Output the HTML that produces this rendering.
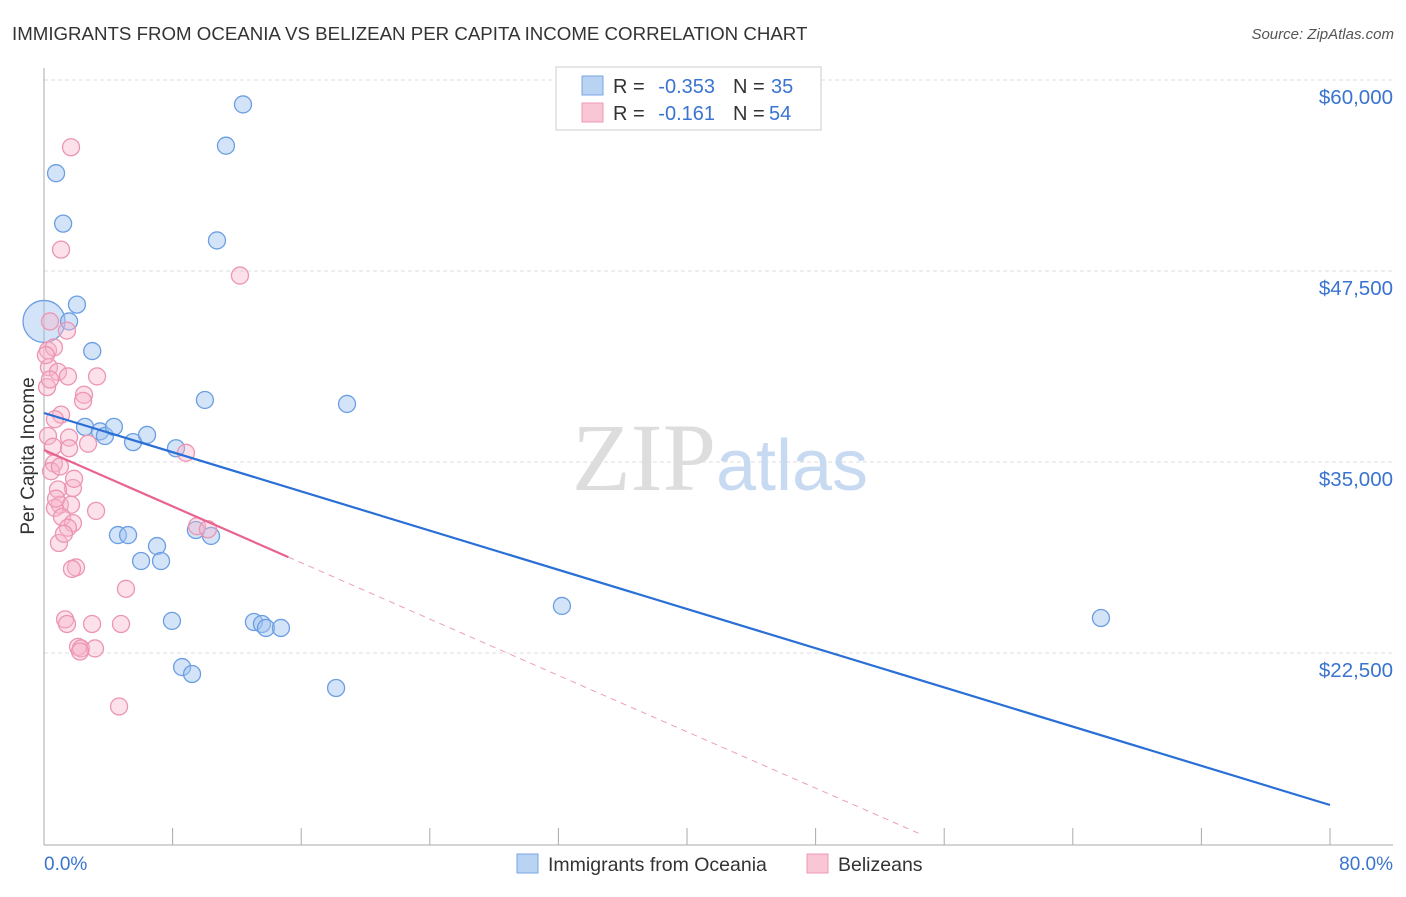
<!DOCTYPE html>
<html><head><meta charset="utf-8"><style>
body{margin:0;background:#fff;font-family:"Liberation Sans",sans-serif;}
</style></head><body>
<svg width="1406" height="892" xmlns="http://www.w3.org/2000/svg">
<text x="12" y="40" font-size="18.7" fill="#333">IMMIGRANTS FROM OCEANIA VS BELIZEAN PER CAPITA INCOME CORRELATION CHART</text>
<text x="1394" y="39" font-size="15" fill="#555" text-anchor="end" font-style="italic">Source: ZipAtlas.com</text>
<g id="grid"></g>
<text x="720" y="490" font-size="96" fill="#ddd" text-anchor="middle" font-family="Liberation Serif">ZIP<tspan fill="#c8daf2" font-family="Liberation Sans" font-size="72">atlas</tspan></text>
<line x1="44" y1="68" x2="44" y2="845" stroke="#aaa"/>
<line x1="44" y1="845" x2="1393" y2="845" stroke="#aaa"/>
<text x="34" y="456" font-size="19" fill="#333" text-anchor="middle" transform="rotate(-90 34 456)">Per Capita Income</text>
<text x="44" y="870" font-size="19" fill="#3a74d0">0.0%</text>
<text x="1393" y="870" font-size="19" fill="#3a74d0" text-anchor="end">80.0%</text>
<g id="pts"></g>
<g id="lines"></g>
<rect x="556" y="67" width="265" height="63" fill="#fff" stroke="#ccc"/>
<rect x="582" y="76" width="21" height="19" fill="#b9d3f3" stroke="#7aa6e6"/>
<rect x="582" y="103" width="21" height="19" fill="#f9c6d6" stroke="#ef97b4"/>
<g font-size="20">
<text x="613" y="93" fill="#333">R =</text><text x="715" y="93" fill="#3a74d0" text-anchor="end">-0.353</text>
<text x="733" y="93" fill="#333">N =</text><text x="771" y="93" fill="#3a74d0">35</text></g>
<g font-size="20">
<text x="613" y="120" fill="#333">R =</text><text x="715" y="120" fill="#3a74d0" text-anchor="end">-0.161</text>
<text x="733" y="120" fill="#333">N =</text><text x="769" y="120" fill="#3a74d0">54</text></g>
<rect x="517" y="854" width="21" height="19" fill="#b9d3f3" stroke="#7aa6e6"/>
<text x="548" y="871" font-size="19.5" fill="#333">Immigrants from Oceania</text>
<rect x="807" y="854" width="21" height="19" fill="#f9c6d6" stroke="#ef97b4"/>
<text x="838" y="871" font-size="19.5" fill="#333">Belizeans</text>
</svg>
<script>
const yTicks=[60000,47500,35000,22500];
const yTickLabels=["$60,000","$47,500","$35,000","$22,500"];
const xTicks=[0,8,16,24,32,40,48,56,64,72,80];
const blueX=[0,0.75,1.19,2.05,1.56,3.0,2.55,3.48,3.79,4.35,5.54,6.41,8.21,10.01,10.76,11.32,12.38,18.85,4.6,5.23,6.04,7.03,7.28,7.96,8.59,9.21,9.45,10.39,13.06,13.56,13.81,14.74,18.17,32.22,65.75];
const blueY=[44200,53900,50600,45300,44200,42260,37300,37000,36700,37300,36300,36770,35900,39060,49500,55700,58400,38800,30220,30220,28520,29500,28520,24600,21580,21125,30550,30160,24530,24400,24140,24140,20210,25580,24790];
const pinkX=[1.68,1.06,12.19,0.37,1.43,0.25,0.62,0.31,0.87,1.49,3.3,0.19,2.49,2.43,1.06,0.68,1.56,0.25,2.74,1.56,8.83,0.62,0.44,1.8,0.87,0.99,0.68,1.68,3.24,1.12,1.8,1.49,0.93,1.99,1.74,5.1,1.31,1.43,2.99,4.79,2.12,2.3,3.17,4.67,9.52,10.2,0.37,0.56,0.99,0.12,1.87,0.75,1.24,2.24];
const pinkY=[55600,48900,47200,44200,43600,42300,42500,41200,40900,40600,40600,39900,39400,39000,38100,37800,36600,36700,36200,35900,35600,34900,34400,33300,33200,32200,32000,32200,31800,31400,31000,30700,29700,28100,28000,26700,24700,24400,24400,24400,22900,22800,22800,19000,30800,30600,40400,36000,34700,42000,33900,32600,30300,22600];
const blueTrend=[38207,12552];
const pinkTrend=[35785,-461];
const NS="http://www.w3.org/2000/svg";
const X=p=>44+p/80*1286;
const Y=v=>80+(60000-v)*191/12500;
function mk(tag,attrs,parent){const e=document.createElementNS(NS,tag);for(const k in attrs)e.setAttribute(k,attrs[k]);document.getElementById(parent).appendChild(e);return e;}
yTicks.forEach((v,i)=>{
 const l=mk('line',{x1:44,x2:1393,y1:Y(v),y2:Y(v),stroke:'#ddd','stroke-dasharray':'4,3'},'grid');
 
 
 const t=mk('text',{x:1393,y:Y(v)+24,'font-size':20.5,fill:'#3a74d0','text-anchor':'end'},'grid');
 t.textContent=yTickLabels[i];
 
 
});
xTicks.forEach(p=>{
 const l=mk('line',{x1:X(p),x2:X(p),y1:828,y2:845,stroke:'#aaa'},'grid');
 
 
});
blueX.forEach((x,i)=>{
 const c=mk('circle',{cx:X(x),cy:Y(blueY[i]),r:i===0?21:8.5,fill:'rgba(160,196,240,0.45)',stroke:'#6b9ee2','stroke-width':1.3},'pts');
 
 
});
pinkX.forEach((x,i)=>{
 const c=mk('circle',{cx:X(x),cy:Y(pinkY[i]),r:8.5,fill:'rgba(247,180,202,0.4)',stroke:'#ec95b2','stroke-width':1.3},'pts');
 
 
});
const bl=mk('line',{x1:X(0),y1:Y(blueTrend[0]),x2:X(80),y2:Y(blueTrend[1]),stroke:'#2a6fd6','stroke-width':2.2},'lines');


const pE=15.2,pD=54.5;
const ps=mk('line',{x1:X(0),y1:Y(pinkTrend[0]),x2:X(pE),y2:Y(pinkTrend[0]+pinkTrend[1]*pE),stroke:'#e8638f','stroke-width':2.2},'lines');


const pd=mk('line',{x1:X(pE),y1:Y(pinkTrend[0]+pinkTrend[1]*pE),x2:X(pD),y2:Y(pinkTrend[0]+pinkTrend[1]*pD),stroke:'#eaa0b8','stroke-width':1,'stroke-dasharray':'6,5'},'lines');


</script>
</body></html>
